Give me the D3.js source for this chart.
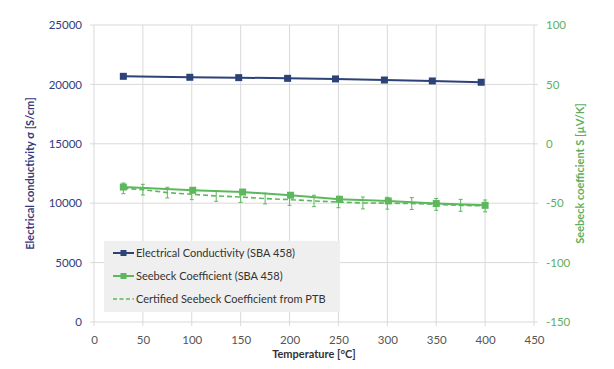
<!DOCTYPE html>
<html><head><meta charset="utf-8">
<script src="https://cdn.jsdelivr.net/npm/d3@7"></script>
<style>body{margin:0;background:#fff}svg{display:block}text{font-family:Lato,"Open Sans",sans-serif}</style>
</head><body><svg id="c" width="614" height="369"></svg>
<script>
// Data
const xTicks = [0,50,100,150,200,250,300,350,400,450];
const leftTicks = [0,5000,10000,15000,20000,25000];
const rightTicks = [-150,-100,-50,0,50,100];
const condT = [30,98,148,198,247,297,346,396];
const condV = [20680,20600,20570,20510,20460,20370,20290,20180];
const seebT = [30,101,152,201,251,301,350,400];
const seebV = [-36.4,-39.1,-40.6,-43.3,-46.7,-48.1,-50.3,-51.8];
const ptbT = [30,50,75,100,125,150,175,200,225,250,275,300,325,350,375,400];
const ptbV = [-37.5,-38.6,-41.1,-42.5,-43.9,-44.8,-46.1,-47.0,-48.1,-49.0,-49.8,-50.0,-50.3,-51.0,-51.8,-52.3];
const ptbErr = [4.5,4.5,4.5,4.5,4.5,4.5,4.5,4.8,4.8,4.8,5,5,5,5,5,5];
const legendLabels = ["Electrical Conductivity (SBA 458)","Seebeck Coefficient (SBA 458)","Certified Seebeck Coefficient from PTB"];

const navy = "#2c4279", navyText = "#333a7d", green = "#5cb85c", greenText = "#5fae5f", grid = "#d9d9d9";
const svg = d3.select("#c");
const L = 94, R = 534, T = 25, B = 322;
const x = d3.scaleLinear().domain([0,450]).range([L,R]);
const yL = d3.scaleLinear().domain([0,25000]).range([B,T]);
const yR = d3.scaleLinear().domain([-150,100]).range([B,T]);
const fmt = d => String(d);

// gridlines
svg.append("g").selectAll("line").data(xTicks).join("line")
  .attr("x1",d=>x(d)).attr("x2",d=>x(d)).attr("y1",T).attr("y2",B+4)
  .attr("stroke",grid).attr("stroke-width",1);
svg.append("g").selectAll("line").data(leftTicks).join("line")
  .attr("x1",L-4).attr("x2",R+4).attr("y1",d=>yL(d)).attr("y2",d=>yL(d))
  .attr("stroke",grid).attr("stroke-width",1);

// axes labels
const gx = svg.append("g").attr("transform",`translate(0,${B})`)
  .call(d3.axisBottom(x).tickValues(xTicks).tickFormat(fmt).tickSize(0).tickPadding(14));
gx.select(".domain").remove();
gx.selectAll("text").attr("fill","#555").style("font-size","11.5px");
const gl = svg.append("g").attr("transform",`translate(${L},0)`)
  .call(d3.axisLeft(yL).tickValues(leftTicks).tickFormat(fmt).tickSize(0).tickPadding(12));
gl.select(".domain").remove();
gl.selectAll("text").attr("fill",navyText).style("font-size","11.5px");
const gr = svg.append("g").attr("transform",`translate(${R},0)`)
  .call(d3.axisRight(yR).tickValues(rightTicks).tickFormat(fmt).tickSize(0).tickPadding(12));
gr.select(".domain").remove();
gr.selectAll("text").attr("fill",greenText).style("font-size","11.5px");

// titles
svg.append("text").attr("x",(L+R)/2).attr("y",358).attr("text-anchor","middle")
  .attr("fill","#333").style("font-size","11px").style("font-weight","bold").text("Temperature [°C]");
svg.append("text").attr("transform",`translate(34,${(T+B)/2}) rotate(-90)`).attr("text-anchor","middle")
  .attr("fill",navyText).style("font-size","11px").style("font-weight","bold").text("Electrical conductivity σ [S/cm]");
svg.append("text").attr("transform",`translate(584,${(T+B)/2}) rotate(-90)`).attr("text-anchor","middle")
  .attr("fill",greenText).style("font-size","11px").style("font-weight","bold").text("Seebeck coefficient S [µV/K]");

// PTB dashed with error bars
const ptb = ptbT.map((t,i)=>({t,v:ptbV[i],e:ptbErr[i]}));
const eb = svg.append("g").attr("stroke",green).attr("stroke-width",1);
ptb.forEach(d=>{
  eb.append("line").attr("x1",x(d.t)).attr("x2",x(d.t)).attr("y1",yR(d.v-d.e)).attr("y2",yR(d.v+d.e));
  eb.append("line").attr("x1",x(d.t)-2).attr("x2",x(d.t)+2).attr("y1",yR(d.v-d.e)).attr("y2",yR(d.v-d.e));
  eb.append("line").attr("x1",x(d.t)-2).attr("x2",x(d.t)+2).attr("y1",yR(d.v+d.e)).attr("y2",yR(d.v+d.e));
});
svg.append("path").datum(ptb).attr("fill","none").attr("stroke",green).attr("stroke-width",1.6)
  .attr("stroke-dasharray","5,3").attr("d",d3.line().x(d=>x(d.t)).y(d=>yR(d.v)));

// Seebeck measured
const seeb = seebT.map((t,i)=>({t,v:seebV[i]}));
svg.append("path").datum(seeb).attr("fill","none").attr("stroke",green).attr("stroke-width",2)
  .attr("d",d3.line().x(d=>x(d.t)).y(d=>yR(d.v)));
svg.append("g").selectAll("rect").data(seeb).join("rect")
  .attr("x",d=>x(d.t)-3.5).attr("y",d=>yR(d.v)-3.5).attr("width",7).attr("height",7).attr("fill",green);

// Conductivity
const cond = condT.map((t,i)=>({t,v:condV[i]}));
svg.append("path").datum(cond).attr("fill","none").attr("stroke",navy).attr("stroke-width",2)
  .attr("d",d3.line().x(d=>x(d.t)).y(d=>yL(d.v)));
svg.append("g").selectAll("rect").data(cond).join("rect")
  .attr("x",d=>x(d.t)-3.5).attr("y",d=>yL(d.v)-3.5).attr("width",7).attr("height",7).attr("fill",navy);

// Legend
const lg = svg.append("g");
lg.append("rect").attr("x",104).attr("y",241).attr("width",236).attr("height",71).attr("fill","#efefef");
const ly = [253,276,299];
legendLabels.forEach((lab,i)=>{
  const yy = ly[i];
  if(i<2){
    const c = i===0?navy:green;
    lg.append("line").attr("x1",113).attr("x2",134).attr("y1",yy).attr("y2",yy).attr("stroke",c).attr("stroke-width",2);
    lg.append("rect").attr("x",120.5).attr("y",yy-3).attr("width",6).attr("height",6).attr("fill",c);
  } else {
    lg.append("line").attr("x1",113).attr("x2",134).attr("y1",yy).attr("y2",yy).attr("stroke",green).attr("stroke-width",1.6).attr("stroke-dasharray","4,2.5");
  }
  lg.append("text").attr("x",136).attr("y",yy).attr("dy","0.35em").attr("fill","#333").style("font-size","11px").text(lab);
});
</script></body></html>
